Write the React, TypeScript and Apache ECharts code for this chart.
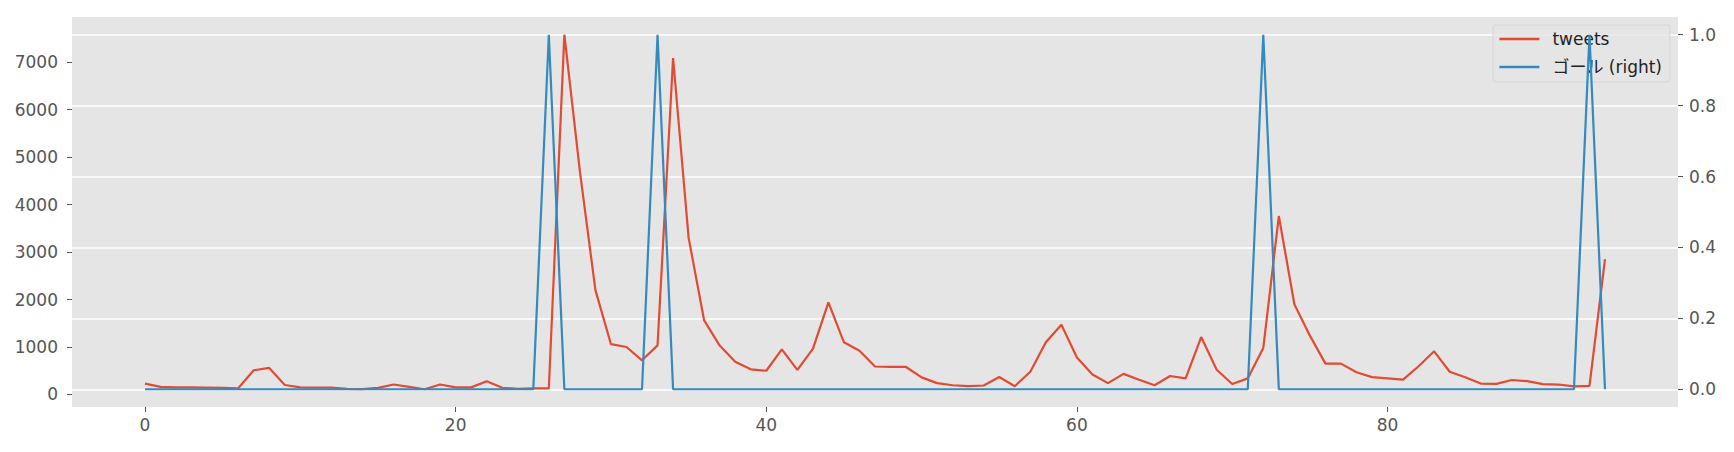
import React, { useEffect, useRef } from "react";
import * as echarts from "echarts";

const tweets = [
  230, 160, 150, 150, 145, 140, 130, 510, 560, 200,
  150, 145, 145, 120, 115, 140, 210, 160, 110, 210,
  150, 150, 280, 140, 120, 130, 130, 7580, 4700, 2200,
  1060, 1000, 720, 1035, 7090, 3300, 1560, 1030, 690, 530,
  500, 950, 520, 960, 1940, 1100, 920, 590, 580, 580,
  360, 240, 195, 175, 190, 370, 175, 480, 1100, 1470,
  780, 420, 240, 435, 310, 195, 390, 340, 1210, 520,
  220, 340, 980, 3760, 1900, 1240, 650, 650, 470, 365,
  340, 315, 595, 910, 480, 365, 230, 225, 305, 280,
  220, 210, 170, 180, 2850,
];

const goal = [
  0, 0, 0, 0, 0, 0, 0, 0, 0, 0,
  0, 0, 0, 0, 0, 0, 0, 0, 0, 0,
  0, 0, 0, 0, 0, 0, 1, 0, 0, 0,
  0, 0, 0, 1, 0, 0, 0, 0, 0, 0,
  0, 0, 0, 0, 0, 0, 0, 0, 0, 0,
  0, 0, 0, 0, 0, 0, 0, 0, 0, 0,
  0, 0, 0, 0, 0, 0, 0, 0, 0, 0,
  0, 0, 1, 0, 0, 0, 0, 0, 0, 0,
  0, 0, 0, 0, 0, 0, 0, 0, 0, 0,
  0, 0, 0, 1, 0,
];

const xTicks = [0, 20, 40, 60, 80];
const leftTicks = [0, 1000, 2000, 3000, 4000, 5000, 6000, 7000];
const rightTicks = [0, 0.2, 0.4, 0.6, 0.8, 1.0];

const seriesNames = ["tweets", "ゴール (right)"];

const FONT = "'DejaVu Sans', 'Noto Sans CJK JP', sans-serif";
const LABEL_COLOR = "#555555";

function padded(arr: number[]): [number, number] {
  const mn = Math.min(...arr);
  const mx = Math.max(...arr);
  const d = (mx - mn) * 0.05;
  return [mn - d, mx + d];
}

export default function App() {
  const ref = useRef<HTMLDivElement>(null);

  useEffect(() => {
    document.body.style.margin = "0";
    const chart = echarts.init(ref.current!, null, { renderer: "svg" });
    const idx = tweets.map((_, i) => i);
    const [xMin, xMax] = padded(idx);
    const [lMin, lMax] = padded(tweets);
    const [rMin, rMax] = padded(goal);

    const axisLabelBase = {
      color: LABEL_COLOR,
      fontFamily: FONT,
      fontSize: 17,
    };
    const tickBase = {
      show: true,
      length: 5,
      lineStyle: { color: LABEL_COLOR, width: 1 },
    };

    chart.setOption({
      animation: false,
      backgroundColor: "#ffffff",
      textStyle: { fontFamily: FONT },
      grid: {
        left: 72,
        right: 56,
        top: 17,
        bottom: 45,
        show: true,
        backgroundColor: "#E5E5E5",
        borderWidth: 0,
      },
      legend: {
        data: seriesNames,
        orient: "vertical",
        right: 64,
        top: 25,
        itemWidth: 40,
        itemHeight: 18,
        itemGap: 10,
        padding: [5, 8, 6, 5],
        backgroundColor: "rgba(229,229,229,0.8)",
        borderColor: "#d6d6d6",
        borderWidth: 1,
        borderRadius: 3,
        itemStyle: { opacity: 0 },
        lineStyle: { width: 2.6 },
        textStyle: {
          fontFamily: FONT,
          fontSize: 17,
          color: "#222222",
          lineHeight: 18,
          padding: [0, 0, 0, 8],
        },
      },
      xAxis: {
        type: "value",
        min: xMin,
        max: xMax,
        axisLine: { show: false, onZero: false },
        splitLine: { show: false },
        axisTick: { ...tickBase, customValues: xTicks },
        axisLabel: {
          ...axisLabelBase,
          margin: 9,
          customValues: xTicks,
          formatter: (v: number) => String(Math.round(v)),
        },
      },
      yAxis: [
        {
          type: "value",
          min: lMin,
          max: lMax,
          position: "left",
          axisLine: { show: false, onZero: false },
          splitLine: { show: false },
          axisTick: { ...tickBase, customValues: leftTicks },
          axisLabel: {
            ...axisLabelBase,
            margin: 14,
            customValues: leftTicks,
            formatter: (v: number) => String(Math.round(v)),
          },
        },
        {
          type: "value",
          min: rMin,
          max: rMax,
          position: "right",
          axisLine: { show: false, onZero: false },
          splitLine: { show: false },
          axisTick: { ...tickBase, customValues: rightTicks },
          axisLabel: {
            ...axisLabelBase,
            margin: 11,
            customValues: rightTicks,
            formatter: (v: number) => v.toFixed(1),
          },
        },
      ],
      series: [
        {
          name: seriesNames[0],
          type: "line",
          yAxisIndex: 0,
          data: idx.map((i) => [i, tweets[i]]),
          symbol: "none",
          showSymbol: false,
          lineStyle: { color: "#E24A33", width: 2.2 },
          itemStyle: { color: "#E24A33" },
          z: 3,
        },
        {
          name: seriesNames[1],
          type: "line",
          yAxisIndex: 1,
          data: idx.map((i) => [i, goal[i]]),
          symbol: "none",
          showSymbol: false,
          lineStyle: { color: "#348ABD", width: 2.2 },
          itemStyle: { color: "#348ABD" },
          z: 4,
          markLine: {
            silent: true,
            symbol: "none",
            z: 1,
            label: { show: false },
            lineStyle: { color: "#ffffff", width: 1.5, type: "solid" },
            data: rightTicks.map((v) => ({ yAxis: v })),
          },
        },
      ],
    });

    return () => chart.dispose();
  }, []);

  return <div ref={ref} style={{ width: 1734, height: 452 }} />;
}
